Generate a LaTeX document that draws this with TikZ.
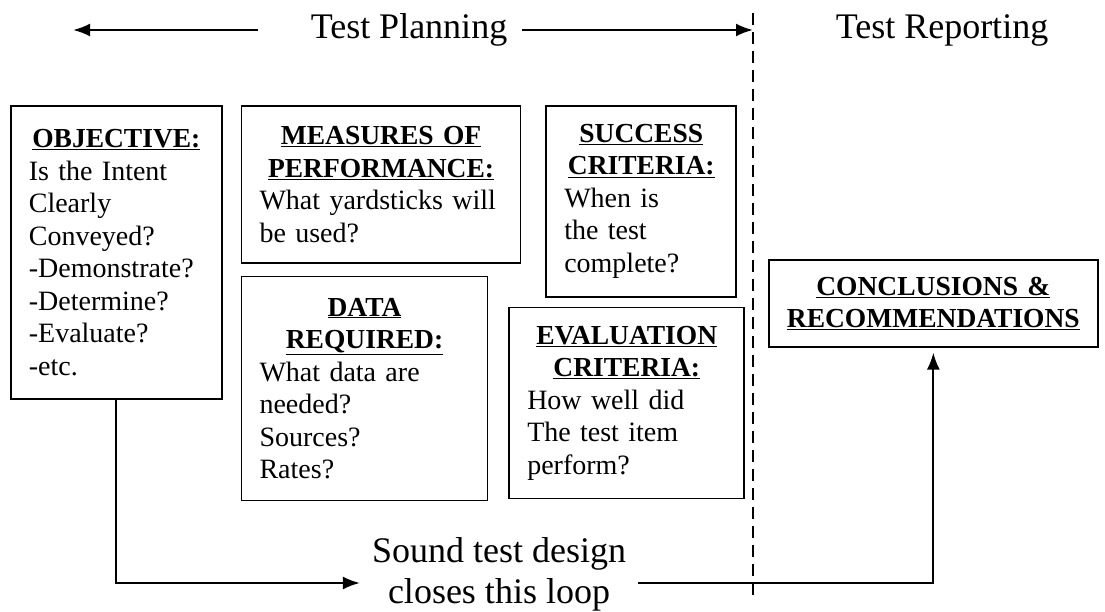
\documentclass[tikz,border=0pt]{standalone}
\usepackage{fontspec}
\setmainfont{Liberation Serif}
\usetikzlibrary{positioning,arrows.meta,calc}
\newcommand{\hd}[1]{\underline{\fontsize{27.5}{32.5}\selectfont\bfseries #1}}
\begin{document}
\begin{tikzpicture}[x=1pt,y=-1pt,
    >={Latex[length=17pt,width=13pt]},
    panel/.style={draw,line width=1.7pt,align=left,inner xsep=18pt,inner ysep=3pt,
      anchor=north west,font=\fontsize{28}{32.5}\selectfont},
    banner/.style={inner sep=0pt,font=\fontsize{36}{40}\selectfont},
    link/.style={line width=1.8pt}]
  \useasboundingbox (0,0) rectangle (1105,612);

  % planning boxes
  \node[panel,text width=175pt,minimum height=293pt] (obj) at (10,105)
    {{\centering\hd{OBJECTIVE:}\par}Is the Intent\\Clearly\\Conveyed?\\-Demonstrate?\\-Determine?\\-Evaluate?\\-etc.};
  \node[panel,text width=243pt,minimum height=157pt,right=18pt of obj.north east,anchor=north west] (mop)
    {{\centering\hd{MEASURES OF}\\\hd{PERFORMANCE:}\par}What yardsticks will\\be used?};
  \node[panel,text width=154pt,minimum height=191pt,right=24pt of mop.north east,anchor=north west] (suc)
    {{\centering\hd{SUCCESS}\\\hd{CRITERIA:}\par}When is\\the test\\complete?};
  \node[panel,text width=210pt,minimum height=224pt,below=12pt of mop.south west,anchor=north west] (dat)
    {{\centering\hd{DATA}\\\hd{REQUIRED:}\par}What data are\\needed?\\Sources?\\Rates?};
  \node[panel,text width=199pt,minimum height=191pt,below=9pt of suc.south west,anchor=north west,xshift=-37pt] (eva)
    {{\centering\hd{EVALUATION}\\\hd{CRITERIA:}\par}How well did\\The test item\\perform?};

  % reporting box
  \node[panel,text width=305pt,inner xsep=12pt,minimum height=87pt,align=center] (con) at (768,259)
    {\hd{CONCLUSIONS \&}\\\hd{RECOMMENDATIONS}};

  % phase headers
  \node[banner] (tp) at (409,30) {Test Planning};
  \node[banner] (tr) at (942,30) {Test Reporting};
  \coordinate (dtop) at (753,13);
  \coordinate (dbot) at (753,597);
  \coordinate (ptip) at (73,29);
  \draw[dashed,line width=1.4pt,dash pattern=on 12pt off 7pt] (dtop) -- (dbot);
  \draw[->,line width=2.4pt] ([xshift=-53pt]tp.west) -- (ptip |- tp.west);
  \draw[->,line width=2.4pt] ([xshift=15pt]tp.east) -- (tp.east -| dtop);

  % the loop
  \node[banner,inner xsep=12pt,align=center,font=\fontsize{36}{41}\selectfont] (snd) at (499,574)
    {Sound test design\\closes this loop};
  \draw[->,link] (obj.south) |- ([yshift=-9pt]snd.west);
  \draw[->,link,shorten >=5pt] ([yshift=-9pt]snd.east) -| (con.south);
\end{tikzpicture}
\end{document}
